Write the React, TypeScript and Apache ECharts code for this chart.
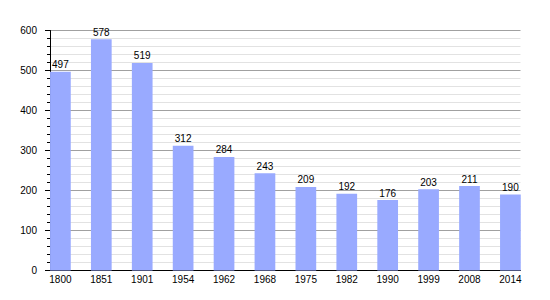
import React, { useEffect, useRef } from "react";
import * as echarts from "echarts";

const years = ["1800", "1851", "1901", "1954", "1962", "1968", "1975", "1982", "1990", "1999", "2008", "2014"];
const population = [497, 578, 519, 312, 284, 243, 209, 192, 176, 203, 211, 190];
const yMin = 0;
const yMax = 600;
const yStep = 100;

export default function App() {
  const ref = useRef<HTMLDivElement>(null);
  useEffect(() => {
    if (!ref.current) return;
    const chart = echarts.init(ref.current, null, { renderer: "svg" });
    const font = "'Liberation Sans', Arial, sans-serif";
    chart.setOption({
      animation: false,
      backgroundColor: "#ffffff",
      grid: [
        { left: 50, right: 29.5, top: 30.5, bottom: 29.5 },
        { left: 60.4, right: 39.6, top: 30.5, bottom: 29.5 },
      ],
      xAxis: [
        {
          gridIndex: 0,
          type: "value",
          min: 0,
          max: 1,
          axisLine: { show: true, lineStyle: { color: "#000", width: 1 } },
          axisTick: { show: false },
          axisLabel: { show: false },
          splitLine: { show: false },
        },
        {
          gridIndex: 1,
          type: "category",
          data: years,
          boundaryGap: false,
          axisLine: { show: false },
          axisTick: { show: false },
          axisLabel: { color: "#000", fontSize: 10, fontFamily: font, margin: 4, interval: 0 },
          splitLine: { show: false },
        },
      ],
      yAxis: [
        {
          gridIndex: 0,
          type: "value",
          min: yMin,
          max: yMax,
          interval: yStep,
          axisLine: { show: true, lineStyle: { color: "#000", width: 1 } },
          axisTick: { show: true, length: 5, lineStyle: { color: "#000" } },
          minorTick: { show: true, splitNumber: 5, length: 3, lineStyle: { color: "#000" } },
          axisLabel: { color: "#000", fontSize: 10, fontFamily: font, margin: 13 },
          splitLine: { show: true, lineStyle: { color: "#a0a0a0", width: 1 } },
          minorSplitLine: { show: true, lineStyle: { color: "#e2e2e2", width: 1 } },
        },
        {
          gridIndex: 1,
          type: "value",
          min: yMin,
          max: yMax,
          interval: yStep,
          show: false,
          splitLine: { show: false },
        },
      ],
      series: [
        {
          type: "bar",
          xAxisIndex: 1,
          yAxisIndex: 1,
          data: population,
          barWidth: 20.7,
          clip: false,
          itemStyle: { color: "#99aaff" },
          label: {
            show: true,
            position: "top",
            distance: 2,
            color: "#000",
            fontSize: 10,
            fontFamily: font,
          },
        },
      ],
    });
    return () => chart.dispose();
  }, []);
  return <div ref={ref} style={{ width: 550, height: 300, position: "absolute", left: 0, top: 0 }} />;
}
